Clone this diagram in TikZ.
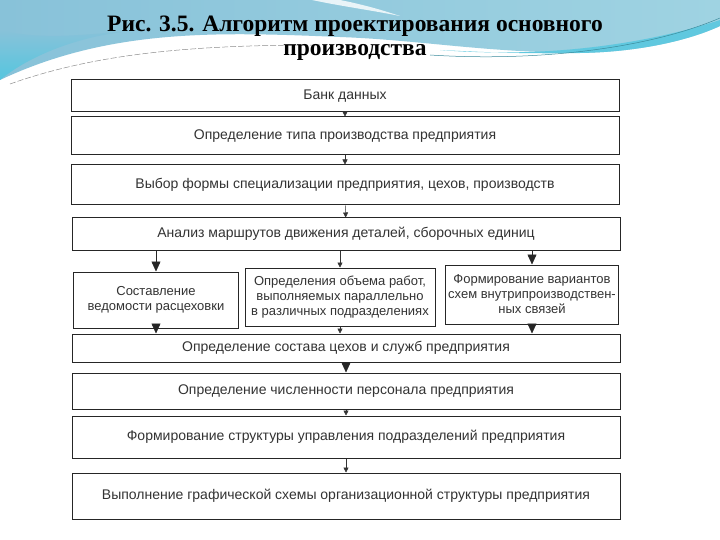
\documentclass[tikz,border=0pt]{standalone}
\usepackage{fontspec}
\setmainfont{Liberation Serif}
\newfontfamily\boxfont{Liberation Sans}
\usetikzlibrary{arrows.meta}
\definecolor{sky}{HTML}{88C2D9}
\definecolor{skylight}{HTML}{9FD3E2}
\definecolor{cyanband}{HTML}{55C6DF}
\tikzset{
  blok/.style={draw=black!85, line width=1pt, minimum width=548pt, inner sep=0pt,
    font=\boxfont\fontsize{14}{16}\selectfont, text=black!80},
  smallblok/.style={draw=black!85, line width=1pt, inner sep=0pt, align=center,
    font=\boxfont\fontsize{13}{15}\selectfont, text=black!80},
  strelka/.style={-{Triangle[length=5pt,width=5pt]}, black!80, line width=0.5pt},
  bigstrelka/.style={-{Triangle[length=10pt,width=9pt]}, black!85, line width=0.5pt}
}
\begin{document}
\begin{tikzpicture}[x=1pt,y=-1pt]
\useasboundingbox (0,0) rectangle (720,540);
\fill[white] (0,0) rectangle (720,540);
% background swoosh
\shade[left color=sky, middle color=sky!70!skylight, right color=skylight]
  (0,0) -- (720,0) -- (720,26) .. controls (690,40) and (640,52) .. (580,53)
  .. controls (480,52) and (420,40) .. (340,37)
  .. controls (220,32) and (110,28) .. (0,80) -- cycle;
\shade[top color=sky, bottom color=cyanband]
  (0,30) .. controls (40,40) and (80,35) .. (130,31) .. controls (80,36) and (30,55) .. (0,80) -- cycle;
\fill[white, opacity=0.8] (312,0) .. controls (340,6) and (370,10) .. (400,16)
  .. controls (370,6) and (350,2) .. (340,0) -- cycle;
\fill[cyanband!85!skylight] (440,50) .. controls (540,58) and (640,46) .. (720,20) -- (720,26)
  .. controls (690,40) and (640,52) .. (580,53) .. controls (520,54) and (480,52) .. (440,50) -- cycle;
\draw[white, line width=1.5pt] (0,86) .. controls (90,44) and (200,38) .. (330,41);
\draw[black!45, line width=0.5pt, dash pattern=on 6pt off 2pt] (10,84) .. controls (100,52) and (200,45) .. (320,45);
\draw[cyanband!70!black, line width=0.5pt] (430,55) .. controls (540,62) and (650,48) .. (720,18);
\draw[white, line width=1pt] (450,58) .. controls (560,66) and (660,50) .. (720,32);
% title
\node[font=\bfseries\fontsize{23.5}{24.5}\selectfont, align=center, inner sep=0pt] (title) at (355,38)
  {Рис. 3.5. Алгоритм проектирования основного\\производства};
% main chain
\node[blok, minimum height=32pt] (bank) at (345,96) {Банк данных};
\node[blok, minimum height=38pt] (tip) at (345,136) {Определение типа производства предприятия};
\node[blok, minimum height=40pt] (vybor) at (345,185) {Выбор формы специализации предприятия, цехов, производств};
\node[blok, minimum height=32pt] (analiz) at (346,234) {Анализ маршрутов движения деталей, сборочных единиц};
% three parallel boxes
\node[smallblok, minimum width=165pt, minimum height=56pt] (rasc) at (156,300)
  {Составление\\ведомости расцеховки};
\node[smallblok, minimum width=190pt, minimum height=58pt] (obem) at (340,297)
  {Определения объема работ,\\выполняемых параллельно\\в различных подразделениях};
\node[smallblok, minimum width=173pt, minimum height=59pt] (svyaz) at (532,294.5)
  {Формирование вариантов\\схем внутрипроизводствен-\\ных связей};
% lower chain
\node[blok, minimum height=28pt] (sostav) at (346,348) {Определение состава цехов и служб предприятия};
\node[blok, minimum height=36pt] (chisl) at (346,391) {Определение численности персонала предприятия};
\node[blok, minimum height=42pt] (uprav) at (346,437) {Формирование структуры управления подразделений предприятия};
\node[blok, minimum height=46pt] (skhema) at (346,496) {Выполнение графической схемы организационной структуры предприятия};
% arrows
\draw[strelka] (bank) -- (tip);
\draw[strelka] (tip) -- (vybor);
\draw[strelka] (vybor) -- (analiz);
\draw[bigstrelka] (analiz.south -| rasc) -- (rasc);
\draw[strelka] (analiz.south -| obem) -- (obem);
\draw[bigstrelka] (analiz.south -| svyaz) -- (svyaz);
\draw[bigstrelka] (rasc) -- (rasc |- sostav.north);
\draw[strelka] (obem) -- (obem |- sostav.north);
\draw[bigstrelka] (svyaz) -- (svyaz |- sostav.north);
\draw[bigstrelka] (sostav) -- (chisl);
\draw[strelka] (chisl) -- (uprav);
\draw[strelka] (uprav) -- (skhema);
\end{tikzpicture}
\end{document}
